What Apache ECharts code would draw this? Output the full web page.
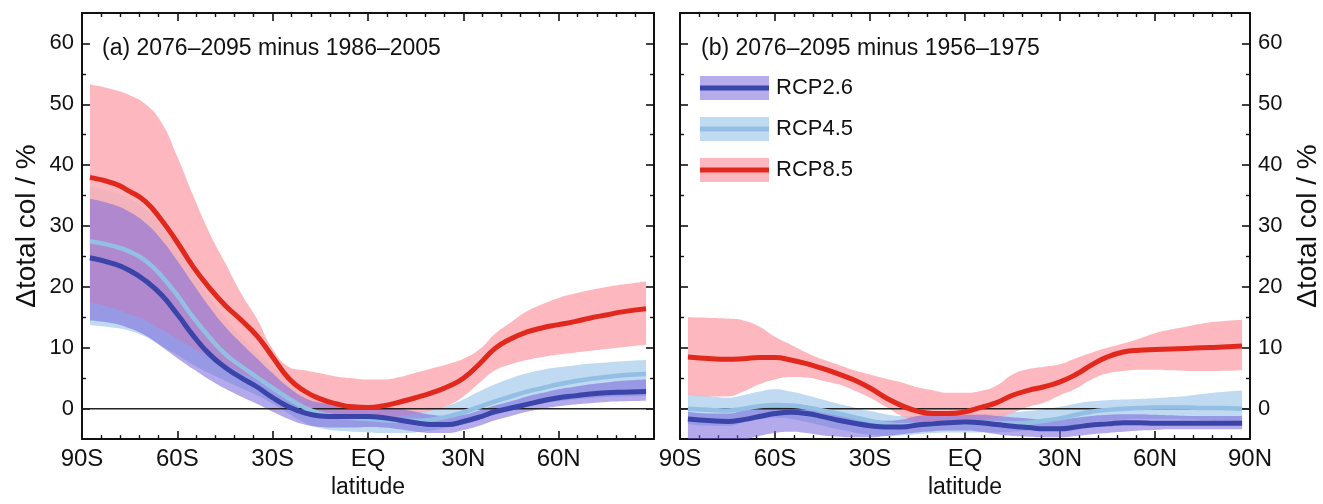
<!DOCTYPE html>
<html>
<head>
<meta charset="utf-8">
<script src="https://cdn.jsdelivr.net/npm/echarts@6/dist/echarts.min.js"></script>
<style>
html,body{margin:0;padding:0;background:#fff;}
#chart{width:1323px;height:504px;}
</style>
</head>
<body>
<div id="chart"></div>
<script>
// ---- data ----
const LAT = [-87.5,-80,-75,-70,-65,-60,-55,-50,-45,-40,-35,-30,-25,-20,-15,-10,-5,0,5,10,15,20,25,30,35,40,45,50,55,60,65,70,75,80,87.5];
const LAT_TICKS = ['90S','60S','30S','EQ','30N','60N','90N'];
const Y_TICKS = [0,10,20,30,40,50,60];
const Y_MINOR = [5,15,25,35,45,55];
const SCEN = ['RCP2.6','RCP4.5','RCP8.5'];

// (a) 2076-2095 minus 1986-2005
const A_RCP85_MEAN = [38.0,37.0,35.7,34.0,31.0,27.3,23.3,19.9,17.0,14.6,12.0,8.5,5.0,2.9,1.6,0.8,0.3,0.2,0.5,1.1,1.8,2.6,3.6,5.0,7.3,9.9,11.5,12.6,13.3,13.8,14.3,14.9,15.4,15.9,16.4];
const A_RCP85_HI   = [53.3,52.4,51.5,50.0,47.0,41.4,35.0,29.0,24.0,19.0,14.8,9.8,6.9,6.3,5.8,5.3,5.0,4.8,4.8,5.2,5.9,6.6,7.3,8.2,9.7,12.3,14.2,16.0,17.2,18.2,18.9,19.5,20.0,20.4,20.9];
const A_RCP85_LO   = [17.5,16.5,15.5,14.5,13.0,11.5,10.0,8.5,7.3,6.0,4.8,3.3,2.0,0.5,-0.8,-1.5,-1.8,-1.8,-1.6,-1.2,-0.8,-0.3,0.5,2.0,4.2,6.3,7.3,8.0,8.5,8.9,9.2,9.5,9.8,10.1,10.5];
const A_RCP26_MEAN = [24.8,23.8,22.7,21.0,18.7,15.5,12.0,9.0,6.8,5.1,3.6,1.8,0.3,-0.7,-1.2,-1.3,-1.3,-1.3,-1.5,-1.9,-2.3,-2.6,-2.6,-2.1,-1.4,-0.5,0.1,0.7,1.3,1.8,2.1,2.4,2.6,2.7,2.8];
const A_RCP26_HI   = [34.5,33.5,32.3,30.5,27.8,24.3,20.5,16.8,13.5,10.8,8.3,5.8,3.5,1.8,1.0,0.8,0.7,0.5,0.3,0.0,-0.5,-1.0,-1.2,-1.0,-0.3,0.5,1.2,2.0,2.6,3.2,3.6,4.0,4.3,4.6,4.8];
const A_RCP26_LO   = [14.5,14.0,13.2,12.0,10.2,8.3,6.5,4.8,3.3,2.0,0.8,-0.5,-1.7,-2.6,-3.0,-3.1,-3.1,-3.0,-3.1,-3.4,-3.8,-4.0,-4.0,-3.5,-2.8,-1.9,-1.2,-0.5,0.0,0.4,0.7,0.9,1.1,1.2,1.3];
const A_RCP45_MEAN = [27.5,26.7,25.8,24.3,21.8,18.6,15.0,11.8,9.0,7.0,5.2,3.4,1.7,0.2,-0.8,-1.3,-1.5,-1.7,-1.9,-2.0,-2.0,-1.8,-1.3,-0.6,0.3,1.2,2.0,2.8,3.4,4.0,4.5,4.9,5.2,5.5,5.7];
const A_RCP45_HI   = [36.6,35.5,34.5,32.8,30.0,26.5,22.5,18.5,15.0,12.0,9.3,7.0,4.5,2.5,1.2,0.5,0.2,0.0,-0.2,-0.3,-0.3,0.0,0.5,1.5,2.8,4.0,5.0,5.8,6.4,6.8,7.1,7.4,7.6,7.8,8.0];
const A_RCP45_LO   = [13.7,13.3,12.8,11.8,10.3,8.8,7.2,5.8,4.6,3.4,2.2,0.8,-0.8,-2.3,-3.2,-3.6,-3.8,-3.9,-4.0,-4.0,-3.9,-3.6,-3.1,-2.6,-1.8,-1.0,-0.3,0.3,0.8,1.2,1.5,1.7,1.9,2.0,2.1];

// (b) 2076-2095 minus 1956-1975
const B_RCP85_MEAN = [8.5,8.2,8.1,8.2,8.4,8.4,8.0,7.4,6.6,5.7,4.7,3.4,1.8,0.5,-0.4,-0.8,-0.8,-0.5,0.2,1.0,2.2,3.0,3.6,4.4,5.6,7.2,8.5,9.3,9.6,9.7,9.8,9.9,10.0,10.1,10.3];
const B_RCP85_HI   = [15.0,14.9,14.8,14.5,13.5,11.8,10.5,9.2,8.1,7.2,6.3,5.6,4.9,4.3,3.5,3.0,2.6,2.6,2.9,3.8,5.6,6.5,6.9,7.3,8.3,9.2,10.0,10.7,11.5,12.4,13.0,13.5,14.0,14.3,14.6];
const B_RCP85_LO   = [2.3,2.0,2.0,2.8,4.0,4.8,5.2,5.1,4.6,4.0,3.0,1.8,0.3,-1.2,-2.2,-2.6,-2.6,-2.4,-2.0,-1.5,-0.7,0.3,1.0,2.2,3.3,4.8,5.8,6.2,6.4,6.4,6.3,6.2,6.2,6.2,6.3];
const B_RCP26_MEAN = [-1.7,-2.0,-2.1,-1.8,-1.3,-0.8,-0.6,-0.8,-1.3,-1.9,-2.4,-2.8,-3.0,-3.0,-2.7,-2.5,-2.3,-2.2,-2.3,-2.6,-2.9,-3.1,-3.3,-3.3,-3.0,-2.7,-2.5,-2.3,-2.3,-2.4,-2.4,-2.4,-2.4,-2.4,-2.4];
const B_RCP26_HI   = [-0.5,-0.8,-0.8,-0.3,0.3,0.7,0.8,0.5,-0.2,-0.8,-1.3,-1.8,-2.0,-1.8,-1.2,-1.0,-1.0,-1.0,-1.0,-1.2,-1.4,-1.6,-1.8,-1.8,-1.5,-1.2,-1.0,-0.9,-0.9,-1.0,-1.1,-1.2,-1.2,-1.2,-1.2];
const B_RCP26_LO   = [-6.5,-6.5,-6.0,-5.2,-4.5,-4.0,-3.8,-4.0,-4.4,-4.6,-4.7,-4.7,-4.5,-4.2,-3.9,-3.7,-3.6,-3.6,-3.8,-4.2,-4.5,-4.6,-4.7,-4.7,-4.5,-4.2,-4.0,-3.8,-3.6,-3.5,-3.4,-3.4,-3.4,-3.4,-3.4];
const B_RCP45_MEAN = [0.0,-0.2,-0.3,0.0,0.4,0.6,0.5,0.2,-0.3,-0.8,-1.4,-2.0,-2.5,-2.7,-2.7,-2.6,-2.4,-2.3,-2.3,-2.4,-2.4,-2.3,-2.0,-1.6,-1.0,-0.5,-0.2,0.0,0.1,0.2,0.2,0.2,0.1,0.1,0.0];
const B_RCP45_HI   = [2.5,2.0,1.8,2.2,2.8,3.2,2.8,2.2,1.5,0.8,0.2,-0.4,-0.9,-1.2,-1.2,-1.0,-0.8,-0.8,-0.8,-0.7,-0.6,-0.4,-0.1,0.3,0.8,1.2,1.4,1.5,1.6,1.7,1.9,2.1,2.4,2.7,3.0];
const B_RCP45_LO   = [-2.5,-2.8,-2.8,-2.3,-1.8,-1.5,-1.7,-2.2,-2.8,-3.4,-3.9,-4.3,-4.5,-4.4,-4.2,-4.0,-3.9,-3.9,-3.9,-3.9,-3.8,-3.6,-3.3,-3.0,-2.6,-2.2,-2.0,-1.8,-1.7,-1.7,-1.7,-1.8,-1.9,-2.0,-2.1];

const TITLES = ['(a) 2076–2095 minus 1986–2005', '(b) 2076–2095 minus 1956–1975'];

// ---- styles ----
const FONT = "'Liberation Sans', Arial, Helvetica, sans-serif";
const COL = {
  'RCP2.6': {line:'#3b44a8', band:'rgba(119,100,219,0.55)', legBand:'rgb(182,172,236)'},
  'RCP4.5': {line:'#92bfe3', band:'rgb(192,218,242)', legBand:'rgb(192,218,242)'},
  'RCP8.5': {line:'#e0281d', band:'rgba(251,172,179,0.85)', legBand:'rgb(252,184,190)'}
};
const GRIDS = [{left:82, top:13, width:572, height:437},{left:680, top:13, width:572, height:437}];

// value first, latitude second (encode maps them) so stacking acts on the value dimension
function pts(arr){ return LAT.map((x,i)=>[arr[i], x]); }
function diff(hi, lo){ return hi.map((h,i)=>h-lo[i]); }
const SM = 0.5;
const ENC = {x:1, y:0};

const xAxes = [], yAxes = [], series = [];
GRIDS.forEach((g, gi) => {
  const base = {type:'value', gridIndex:gi, min:-90, max:90, interval:30,
    axisLine:{show:true, onZero:false, lineStyle:{color:'#111', width:2}},
    axisTick:{show:true, inside:true, length:8, lineStyle:{color:'#111', width:1.6}},
    minorTick:{show:true, splitNumber:5, length:4, lineStyle:{color:'#111', width:1.4}},
    splitLine:{show:false}, minorSplitLine:{show:false}};
  xAxes.push(Object.assign({}, base, {position:'bottom',
    name:'latitude', nameLocation:'middle', nameGap:27,
    nameTextStyle:{fontSize:23, color:'#111', fontFamily:FONT},
    axisLabel:{show:true, margin:8, fontSize:24, color:'#111', fontFamily:FONT,
      showMaxLabel: gi===1, showMinLabel:true,
      formatter: v => LAT_TICKS[Math.round((v+90)/30)]}}));
  xAxes.push(Object.assign({}, base, {position:'top', axisLabel:{show:false}}));
  const mainPos = gi===0 ? 'left' : 'right';
  const otherPos = gi===0 ? 'right' : 'left';
  const ybase = {type:'value', gridIndex:gi, min:-5, max:65, splitLine:{show:false}};
  const frameLine = {show:true, onZero:false, lineStyle:{color:'#111', width:2}};
  const noLine = {show:false, onZero:false};
  yAxes.push(Object.assign({}, ybase, {position:mainPos, axisLine:frameLine,
    name:'Δtotal col / %', nameLocation:'middle', nameRotate:90, nameGap: gi===0?41:44,
    nameTextStyle:{fontSize:28, color:'#111', fontFamily:FONT},
    axisTick:{show:true, inside:true, length:8, customValues:Y_TICKS, lineStyle:{color:'#111', width:1.6}},
    axisLabel:{show:true, customValues:Y_TICKS, margin:8, fontSize:22, color:'#111', fontFamily:FONT}}));
  yAxes.push(Object.assign({}, ybase, {position:otherPos, axisLine:frameLine,
    axisTick:{show:true, inside:true, length:8, customValues:Y_TICKS, lineStyle:{color:'#111', width:1.6}},
    axisLabel:{show:false}}));
  yAxes.push(Object.assign({}, ybase, {position:'left', axisLine:noLine,
    axisTick:{show:true, inside:true, length:4, customValues:Y_MINOR, lineStyle:{color:'#111', width:1.4}},
    axisLabel:{show:false}}));
  yAxes.push(Object.assign({}, ybase, {position:'right', axisLine:noLine,
    axisTick:{show:true, inside:true, length:4, customValues:Y_MINOR, lineStyle:{color:'#111', width:1.4}},
    axisLabel:{show:false}}));
});

const PANELS = [
  {'RCP2.6':[A_RCP26_LO,A_RCP26_MEAN,A_RCP26_HI], 'RCP4.5':[A_RCP45_LO,A_RCP45_MEAN,A_RCP45_HI], 'RCP8.5':[A_RCP85_LO,A_RCP85_MEAN,A_RCP85_HI]},
  {'RCP2.6':[B_RCP26_LO,B_RCP26_MEAN,B_RCP26_HI], 'RCP4.5':[B_RCP45_LO,B_RCP45_MEAN,B_RCP45_HI], 'RCP8.5':[B_RCP85_LO,B_RCP85_MEAN,B_RCP85_HI]}
];
const BAND_ORDER = ['RCP4.5','RCP8.5','RCP2.6'];
const LINE_ORDER = ['RCP4.5','RCP2.6','RCP8.5'];

PANELS.forEach((p, gi) => {
  const xi = gi*2, yi = gi*4;
  BAND_ORDER.forEach((s, k) => {
    const [lo, mean, hi] = p[s];
    const st = 'band'+gi+s;
    series.push({type:'line', name:s+' low', xAxisIndex:xi, yAxisIndex:yi, stack:st, stackStrategy:'all',
      encode:ENC, data:pts(lo), symbol:'none', smooth:SM, lineStyle:{opacity:0, width:0}, silent:true, z:1+k*0.01});
    series.push({type:'line', name:s+' range', xAxisIndex:xi, yAxisIndex:yi, stack:st, stackStrategy:'all',
      encode:ENC, data:pts(diff(hi, lo)), symbol:'none', smooth:SM, lineStyle:{opacity:0, width:0},
      areaStyle:{color:COL[s].band, opacity:1}, silent:true, z:1+k*0.01});
  });
  series.push({type:'line', name:'zero', xAxisIndex:xi, yAxisIndex:yi, encode:ENC, data:[[0,-90],[0,90]],
    symbol:'none', lineStyle:{color:'#222', width:1.5}, silent:true, z:2});
  LINE_ORDER.forEach((s, k) => {
    series.push({type:'line', name:s, xAxisIndex:xi, yAxisIndex:yi, encode:ENC, data:pts(p[s][1]), symbol:'none',
      smooth:SM, lineStyle:{color:COL[s].line, width:s==='RCP4.5'?4.5:5}, silent:true, z:3+k*0.01});
  });
});

// legend (panel b)
const graphic = [];
SCEN.forEach((s, i) => {
  const cy = 88 + i*41;
  graphic.push({type:'rect', shape:{x:700, y:cy-12, width:69, height:24}, style:{fill:COL[s].legBand}, silent:true});
  graphic.push({type:'line', shape:{x1:700, y1:cy, x2:769, y2:cy}, style:{stroke:COL[s].line, lineWidth:5}, silent:true});
  graphic.push({type:'text', x:776, y:cy, style:{text:s, fill:'#111', font:"22px "+FONT, textVerticalAlign:'middle'}, silent:true});
});

const chart = echarts.init(document.getElementById('chart'), null, {renderer:'canvas'});
chart.setOption({
  backgroundColor:'#fff',
  animation:false,
  title: TITLES.map((t, i) => ({text:t, left: i===0?97:696, top:30,
    textStyle:{fontSize:23, fontWeight:'normal', color:'#111', fontFamily:FONT, lineHeight:28}})),
  grid: GRIDS,
  xAxis: xAxes,
  yAxis: yAxes,
  series: series,
  graphic: graphic
});
</script>
</body>
</html>
